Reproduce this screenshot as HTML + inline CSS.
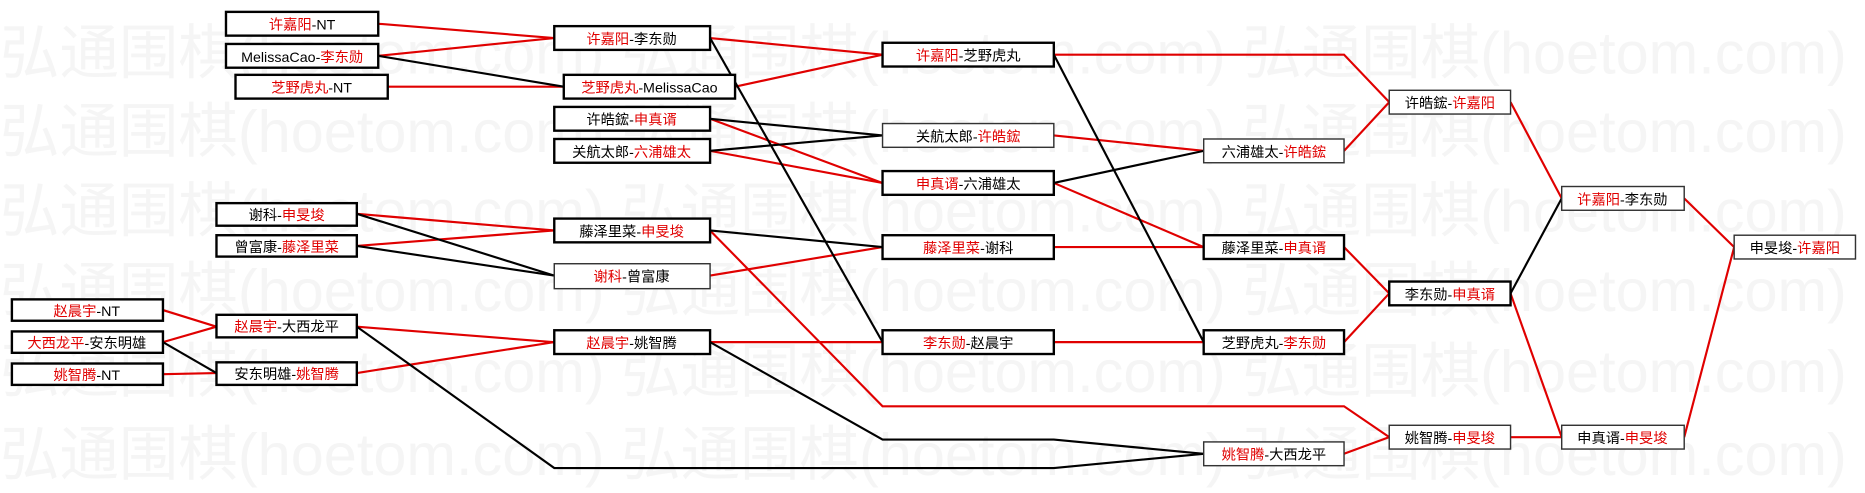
<!DOCTYPE html>
<html><head><meta charset="utf-8"><style>
html,body{margin:0;padding:0;background:#fff;}
svg{display:block;}
text{font-family:"Liberation Sans","Noto Sans CJK SC",sans-serif;}
.wm{font-family:"Liberation Serif","Noto Serif CJK SC",serif;font-size:50px;fill:#f5f5f5;}
.r{fill:#e00000}
</style></head><body>
<svg width="1865" height="493" viewBox="0 0 1568 415" preserveAspectRatio="none">
<g class="wm">
<text x="0" y="62">弘通围棋(hoetom.com) 弘通围棋(hoetom.com) 弘通围棋(hoetom.com)</text>
<text x="0" y="128">弘通围棋(hoetom.com) 弘通围棋(hoetom.com) 弘通围棋(hoetom.com)</text>
<text x="0" y="195">弘通围棋(hoetom.com) 弘通围棋(hoetom.com) 弘通围棋(hoetom.com)</text>
<text x="0" y="262">弘通围棋(hoetom.com) 弘通围棋(hoetom.com) 弘通围棋(hoetom.com)</text>
<text x="0" y="330">弘通围棋(hoetom.com) 弘通围棋(hoetom.com) 弘通围棋(hoetom.com)</text>
<text x="0" y="400">弘通围棋(hoetom.com) 弘通围棋(hoetom.com) 弘通围棋(hoetom.com)</text>
</g>
<g fill="none" stroke-width="1.8">
<g stroke="#e00000">
<polyline points="137,261 182,275"/><polyline points="137,288 182,275"/><polyline points="137,315 182,314"/>
<polyline points="318,20 466,32"/><polyline points="318,47 466,32"/><polyline points="326,73 474,73"/>
<polyline points="300,180 466,194"/><polyline points="300,207 466,194"/>
<polyline points="300,275 466,288"/><polyline points="300,314 466,288"/>
<polyline points="597,32 742,46"/><polyline points="618,73 742,46"/>
<polyline points="597,100 742,154"/><polyline points="597,127 742,154"/>
<polyline points="597,194 742,342 1130,342 1168,368"/>
<polyline points="597,232 742,208"/><polyline points="597,288 742,288"/>
<polyline points="886,46 1130,46 1168,86"/>
<polyline points="886,114 1012,127"/><polyline points="886,154 1012,208"/>
<polyline points="886,208 1012,208"/><polyline points="886,288 1012,288"/>
<polyline points="1130,127 1168,86"/><polyline points="1130,208 1168,247"/><polyline points="1130,288 1168,247"/><polyline points="1130,382 1168,368"/>
<polyline points="1270,86 1313,167"/><polyline points="1270,247 1313,368"/><polyline points="1270,368 1313,368"/>
<polyline points="1416,167 1458,208"/><polyline points="1416,368 1458,208"/>
</g>
<g stroke="#000">
<polyline points="137,288 182,314"/>
<polyline points="318,47 474,73"/>
<polyline points="300,180 466,232"/><polyline points="300,207 466,232"/>
<polyline points="300,275 466,394 886,394 1012,382"/>
<polyline points="597,32 742,288"/>
<polyline points="597,100 742,114"/><polyline points="597,127 742,114"/>
<polyline points="597,194 742,208"/>
<polyline points="597,288 742,370 886,370 1012,382"/>
<polyline points="886,46 1012,288"/>
<polyline points="886,154 1012,127"/>
<polyline points="1270,247 1313,167"/>
</g>
</g>
<g font-size="12" text-anchor="middle">
<g fill="#fff" stroke="#000" stroke-width="2">
<rect x="10" y="252" width="127" height="18"/><rect x="10" y="279" width="127" height="18"/><rect x="10" y="306" width="127" height="18"/>
<rect x="190" y="10" width="128" height="20"/><rect x="190" y="37" width="128" height="20"/><rect x="198" y="63" width="128" height="20"/>
<rect x="182" y="171" width="118" height="19"/><rect x="182" y="198" width="118" height="18"/>
<rect x="182" y="265" width="118" height="19"/><rect x="182" y="305" width="118" height="19"/>
<rect x="466" y="22" width="131" height="20"/><rect x="474" y="63" width="144" height="20"/><rect x="466" y="90" width="131" height="20"/><rect x="466" y="117" width="131" height="20"/>
<rect x="466" y="184" width="131" height="20"/><rect x="466" y="278" width="131" height="20"/>
<rect x="742" y="36" width="144" height="20"/><rect x="742" y="144" width="144" height="20"/><rect x="742" y="198" width="144" height="20"/><rect x="742" y="278" width="144" height="20"/>
<rect x="1012" y="198" width="118" height="20"/><rect x="1012" y="278" width="118" height="20"/>
<rect x="1168" y="237" width="102" height="20"/>
</g>
<g fill="#fff" stroke="#333" stroke-width="1.2">
<rect x="466" y="222" width="131" height="21"/>
<rect x="742" y="104" width="144" height="20"/>
<rect x="1012" y="117" width="118" height="20"/><rect x="1012" y="372" width="118" height="20"/>
<rect x="1168" y="76" width="102" height="20"/><rect x="1168" y="358" width="102" height="20"/>
<rect x="1313" y="157" width="103" height="20"/><rect x="1313" y="358" width="103" height="20"/>
<rect x="1458" y="198" width="102" height="20"/>
</g>
<text x="73" y="266"><tspan class="r">赵晨宇</tspan>-NT</text>
<text x="73" y="293"><tspan class="r">大西龙平</tspan>-安东明雄</text>
<text x="73" y="320"><tspan class="r">姚智腾</tspan>-NT</text>
<text x="254" y="25"><tspan class="r">许嘉阳</tspan>-NT</text>
<text x="254" y="52">MelissaCao-<tspan class="r">李东勋</tspan></text>
<text x="262" y="78"><tspan class="r">芝野虎丸</tspan>-NT</text>
<text x="241" y="185">谢科-<tspan class="r">申旻埈</tspan></text>
<text x="241" y="212">曾富康-<tspan class="r">藤泽里菜</tspan></text>
<text x="241" y="279"><tspan class="r">赵晨宇</tspan>-大西龙平</text>
<text x="241" y="319">安东明雄-<tspan class="r">姚智腾</tspan></text>
<text x="531" y="37"><tspan class="r">许嘉阳</tspan>-李东勋</text>
<text x="546" y="78"><tspan class="r">芝野虎丸</tspan>-MelissaCao</text>
<text x="531" y="105">许皓鋐-<tspan class="r">申真谞</tspan></text>
<text x="531" y="132">关航太郎-<tspan class="r">六浦雄太</tspan></text>
<text x="531" y="199">藤泽里菜-<tspan class="r">申旻埈</tspan></text>
<text x="531" y="237"><tspan class="r">谢科</tspan>-曾富康</text>
<text x="531" y="293"><tspan class="r">赵晨宇</tspan>-姚智腾</text>
<text x="814" y="51"><tspan class="r">许嘉阳</tspan>-芝野虎丸</text>
<text x="814" y="119">关航太郎-<tspan class="r">许皓鋐</tspan></text>
<text x="814" y="159"><tspan class="r">申真谞</tspan>-六浦雄太</text>
<text x="814" y="213"><tspan class="r">藤泽里菜</tspan>-谢科</text>
<text x="814" y="293"><tspan class="r">李东勋</tspan>-赵晨宇</text>
<text x="1071" y="132">六浦雄太-<tspan class="r">许皓鋐</tspan></text>
<text x="1071" y="213">藤泽里菜-<tspan class="r">申真谞</tspan></text>
<text x="1071" y="293">芝野虎丸-<tspan class="r">李东勋</tspan></text>
<text x="1071" y="387"><tspan class="r">姚智腾</tspan>-大西龙平</text>
<text x="1219" y="91">许皓鋐-<tspan class="r">许嘉阳</tspan></text>
<text x="1219" y="252">李东勋-<tspan class="r">申真谞</tspan></text>
<text x="1219" y="373">姚智腾-<tspan class="r">申旻埈</tspan></text>
<text x="1364" y="172"><tspan class="r">许嘉阳</tspan>-李东勋</text>
<text x="1364" y="373">申真谞-<tspan class="r">申旻埈</tspan></text>
<text x="1509" y="213">申旻埈-<tspan class="r">许嘉阳</tspan></text>
</g>
</svg>
</body></html>
